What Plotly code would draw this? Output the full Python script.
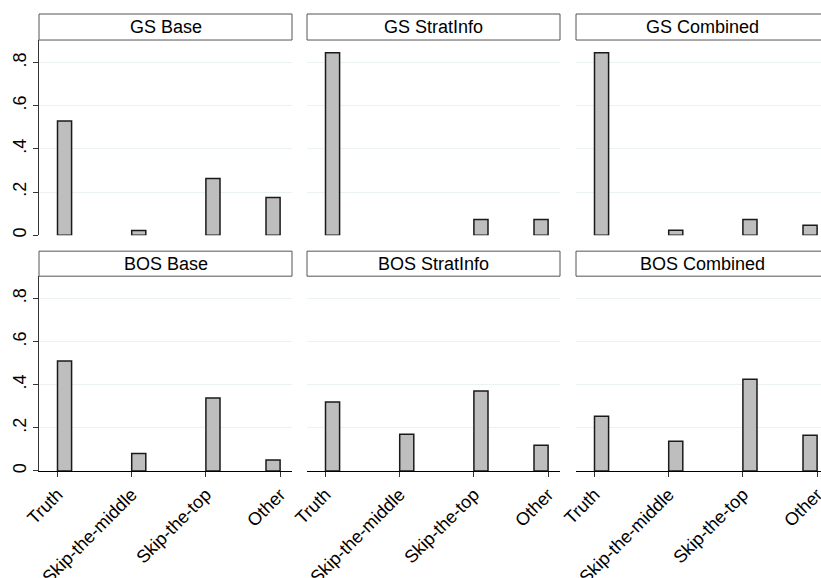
import plotly.graph_objects as go

categories = ["Truth", "Skip-the-middle", "Skip-the-top", "Other"]
panel_titles = ["GS Base", "GS StratInfo", "GS Combined",
                "BOS Base", "BOS StratInfo", "BOS Combined"]
gs_base = [0.529, 0.022, 0.263, 0.175]
gs_stratinfo = [0.846, 0.0, 0.073, 0.073]
gs_combined = [0.846, 0.023, 0.073, 0.046]
bos_base = [0.510, 0.081, 0.338, 0.051]
bos_stratinfo = [0.320, 0.171, 0.371, 0.119]
bos_combined = [0.254, 0.138, 0.425, 0.166]
y_tickvals = [0, 0.2, 0.4, 0.6, 0.8]
y_ticktext = ["0", ".2", ".4", ".6", ".8"]

series = [gs_base, gs_stratinfo, gs_combined, bos_base, bos_stratinfo, bos_combined]

W, H = 821, 578
ML = 39
bottom_ref = 470.7
MB = H - bottom_ref
pw = W - ML
ph = H - MB

def px_x(p):
    return (p - ML) / pw

def px_y(p):
    return (ph - p) / ph

col_px = [(39, 292), (307, 560), (576, 821)]
row_px = [(40, 235), (276, 470.7)]
title_px = [(14, 40), (251, 276)]

bar_w = 0.19
offsets = [0, 0, 0, -bar_w]
unit = 74.2
x0 = -18.5 / unit

fig = go.Figure()
font_fam = "Liberation Sans, Arial, sans-serif"

layout = dict(
    width=W, height=H,
    margin=dict(l=ML, r=0, t=0, b=MB, autoexpand=False),
    paper_bgcolor="white", plot_bgcolor="white",
    showlegend=False,
    font=dict(family=font_fam, color="black", size=18),
    shapes=[], annotations=[],
)

for i, vals in enumerate(series):
    r, c = divmod(i, 3)
    idx = i + 1
    xa = "x" if idx == 1 else f"x{idx}"
    ya = "y" if idx == 1 else f"y{idx}"
    fig.add_trace(go.Bar(
        x=categories, y=vals, xaxis=xa, yaxis=ya,
        width=bar_w, offset=offsets,
        marker=dict(color="#bebebe",
                    line=dict(color="#1a1a1a",
                              width=[1.5 if v > 0 else 0 for v in vals])),
        hoverinfo="x+y",
    ))
    left, right = col_px[c]
    top, bot = row_px[r]
    full_right = left + 253
    xr0 = x0
    xr1 = x0 + (right - left) / unit
    xkey = "xaxis" if idx == 1 else f"xaxis{idx}"
    ykey = "yaxis" if idx == 1 else f"yaxis{idx}"
    layout[xkey] = dict(
        domain=[max(0, px_x(left)), min(1, px_x(right))], anchor=ya,
        type="category", range=[xr0, xr1], automargin=False,
        showgrid=False, zeroline=False,
        showline=(r == 1), linecolor="black", linewidth=1,
        ticks="outside" if r == 1 else "", ticklen=5, tickcolor="#333",
        showticklabels=(r == 1), tickangle=-45,
        tickfont=dict(size=18, family=font_fam),
        fixedrange=True,
    )
    yr1 = (bot - top) / 215.5
    layout[ykey] = dict(
        domain=[max(0, px_y(bot)), min(1, px_y(top))], anchor=xa,
        range=[0, yr1], automargin=False,
        tickvals=y_tickvals, ticktext=y_ticktext,
        showgrid=True, gridcolor="#eaf2f3", gridwidth=1.2,
        zeroline=False,
        showline=(c == 0), linecolor="#333", linewidth=1,
        ticks="outside" if c == 0 else "", ticklen=5, tickcolor="#333",
        showticklabels=(c == 0), tickangle=-90,
        tickfont=dict(size=18, family=font_fam),
        fixedrange=True,
    )
    t0, t1 = title_px[r]
    layout["shapes"].append(dict(
        type="rect", xref="paper", yref="paper",
        x0=px_x(left), x1=px_x(full_right),
        y0=px_y(t1), y1=px_y(t0),
        fillcolor="white", line=dict(color="#555", width=1),
        layer="above",
    ))
    layout["annotations"].append(dict(
        text=panel_titles[i], xref="paper", yref="paper",
        x=px_x((left + full_right) / 2), y=px_y((t0 + t1) / 2),
        xanchor="center", yanchor="middle", showarrow=False,
        font=dict(size=18, family=font_fam, color="black"),
    ))

fig.update_layout(**layout)
fig.write_html(
    "out.html",
    config={"displayModeBar": False},
    post_script="document.body.style.margin='0';document.body.style.overflow='hidden';",
)
